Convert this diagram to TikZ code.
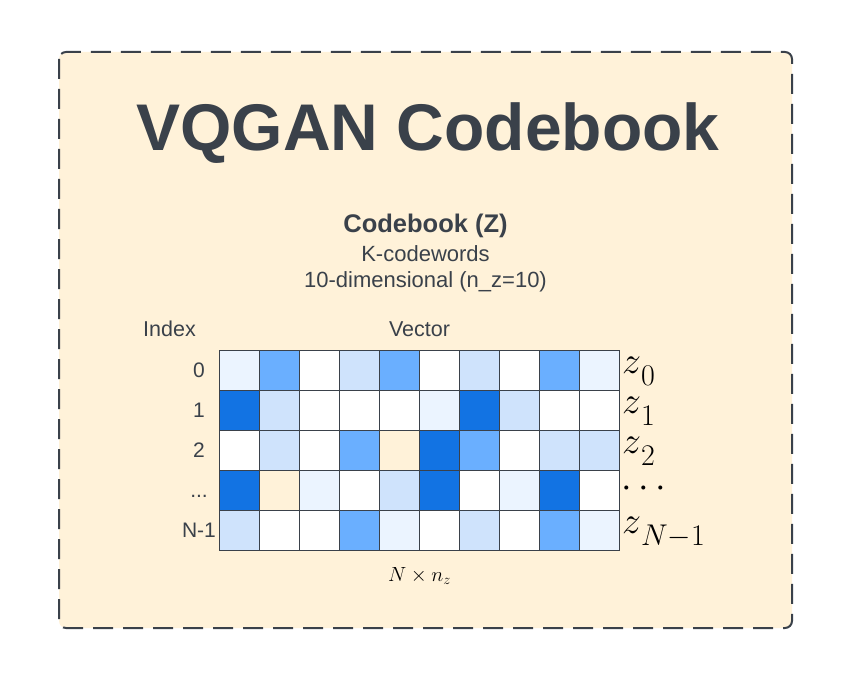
\RequirePackage{fix-cm}
\documentclass[tikz,border=0pt]{standalone}
\usepackage{fontspec}
\setmainfont{Liberation Sans}

\definecolor{ink}{HTML}{3A414A}
\definecolor{paper}{HTML}{FFF2D9}
\colorlet{tone0}{white}
\definecolor{tone1}{HTML}{EBF4FF}
\definecolor{tone2}{HTML}{CFE3FC}
\definecolor{tone3}{HTML}{6AAFFF}
\definecolor{tone4}{HTML}{1273E3}
\colorlet{tone5}{paper}
\newcommand{\rowdots}{...}
\newcommand{\zword}[1]{{\fontsize{38}{40}\selectfont$z$}\raisebox{-12pt}{\fontsize{30}{32}\selectfont$#1$}}

\begin{document}
\begin{tikzpicture}[x=1pt, y=-1pt,
    cell/.style={draw=ink, line width=1pt, minimum size=40pt, inner sep=0pt},
    rowlab/.style={anchor=base, inner sep=0pt, text=ink, font=\fontsize{21}{24}\selectfont},
    zlab/.style={anchor=base west, inner sep=0pt},
    head/.style={anchor=base, inner sep=0pt, text=ink}]
    \useasboundingbox (0,0) rectangle (851,679);
    % outer frame
    \draw[ink, fill=paper, line width=2pt, rounded corners=7pt,
          dash pattern=on 20pt off 10pt] (59,52) rectangle (792,628);
    \node[head, font=\fontsize{66}{70}\selectfont\bfseries] (title) at (428,151) {VQGAN Codebook};
    \node[head, font=\fontsize{25.5}{28}\selectfont\bfseries] (cbname) at (425.5,233) {Codebook (Z)};
    \node[head, font=\fontsize{22}{26}\selectfont] (cbwords) at (425.5,261.5) {K-codewords};
    \node[head, font=\fontsize{22}{26}\selectfont] (cbdim) at (425.5,287.5) {10-dimensional (n\_z=10)};
    \node[head, font=\fontsize{21.5}{24}\selectfont] (idxhead) at (169.5,336) {Index};
    \node[head, font=\fontsize{21.5}{24}\selectfont] (vechead) at (419.5,336) {Vector};
    % codebook grid
    \foreach \row/\cells in {0/{1,3,0,2,3,0,2,0,3,1},
                             1/{4,2,0,0,0,1,4,2,0,0},
                             2/{0,2,0,3,5,4,3,0,2,2},
                             3/{4,5,1,0,2,4,0,1,4,0},
                             4/{2,0,0,3,1,0,2,0,3,1}}
        \foreach \c [count=\col from 0] in \cells
            \node[cell, fill=tone\c] (c-\row-\col) at (239.5+40*\col, 370+40*\row) {};
    % index labels
    \foreach \row/\lab in {0/0, 1/1, 2/2, 3/\rowdots, 4/N-1}
        \node[rowlab] (idx-\row) at (199, 377+40*\row) {\lab};
    % vector names
    \foreach \row/\sub in {0/0, 1/1, 2/2, 4/{N}{-}1}
        \node[zlab] (z-\row) at (622, 373+40*\row) {\zword{\sub}};
    \node[zlab, font=\fontsize{38}{44}\selectfont] (z-3) at (621.5, 497) {$\cdots$};
    \node[anchor=base, inner sep=0pt, font=\fontsize{20.5}{23}\selectfont] (size) at (419.5,581.5) {$N \times n_z$};
\end{tikzpicture}
\end{document}
